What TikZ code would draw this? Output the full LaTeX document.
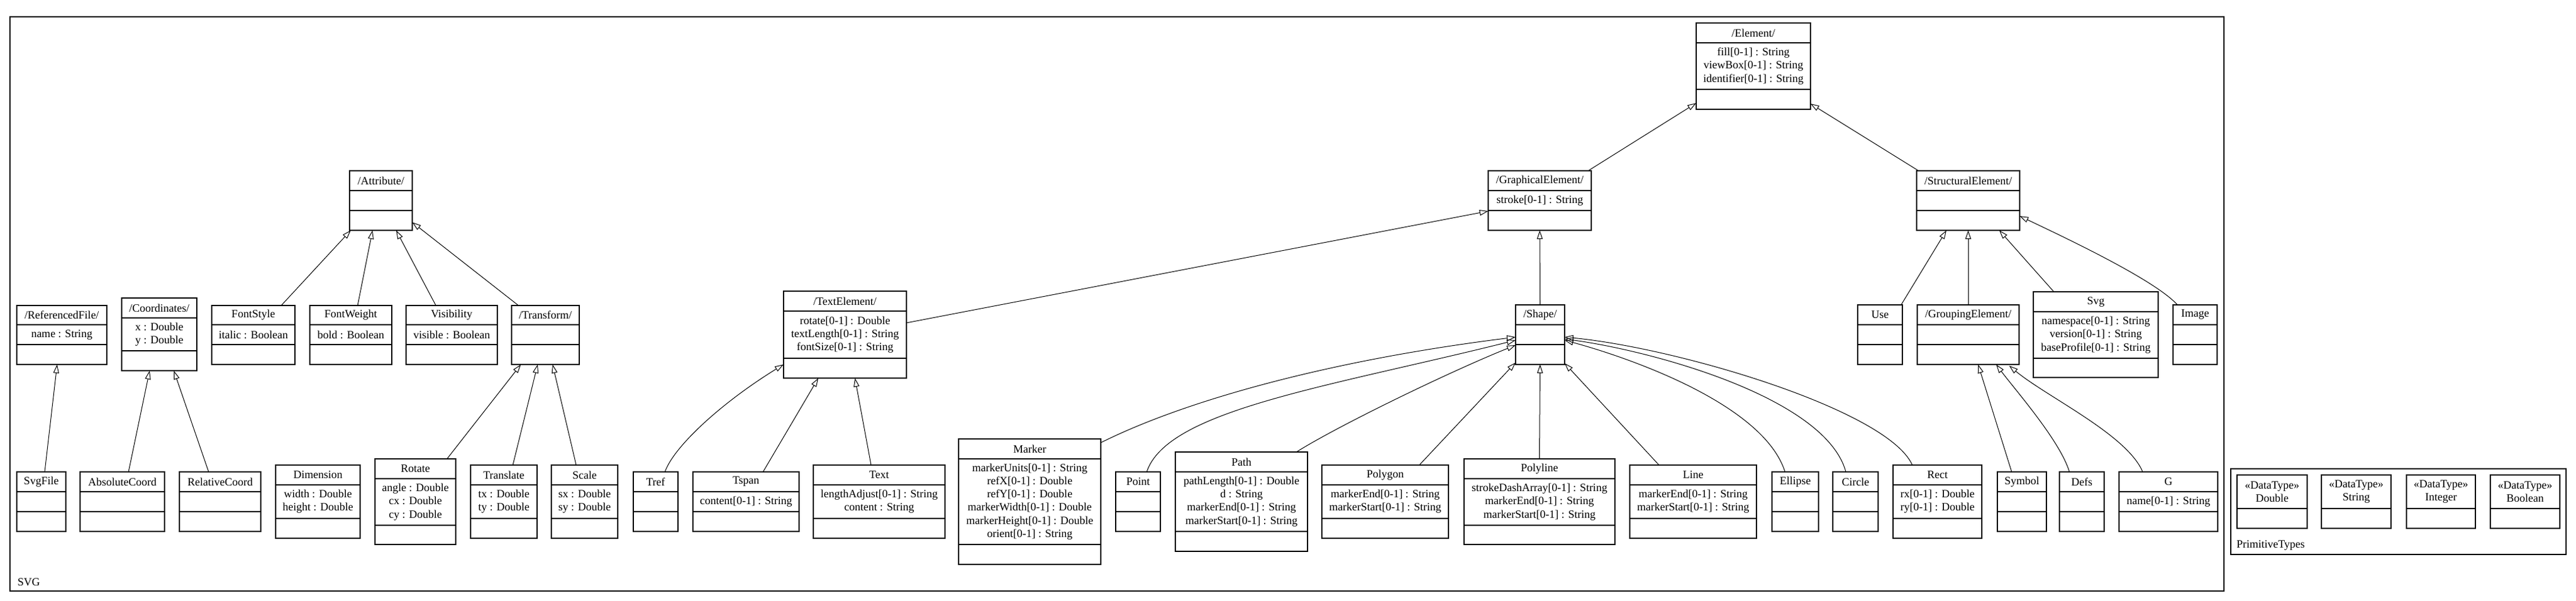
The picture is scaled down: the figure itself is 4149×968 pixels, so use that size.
\documentclass[tikz,border=0pt]{standalone}
\usepackage{fontspec}
\setmainfont{Liberation Serif}
\usetikzlibrary{arrows.meta,calc}
\newcommand\umlfont{\fontsize{9}{10.65}\selectfont}
\newcommand\umlclass[9]{%
  \node[cls, minimum width={(#4-#2)*0.5pt}, minimum height={(#5-#3)*0.5pt}] (#1) at ({(#2+#4)/2},{(#3+#5)/2}) {};
  \draw[clsline] (#2,#6) -- (#4,#6) (#2,#7) -- (#4,#7);
  \node[ttl] (#1-t) at ({(#2+#4)/2},{(#3+#6)/2}) {#8};
  \node[att] (#1-a) at ({(#2+#4)/2},{(#6+#7)/2}) {#9};
}
\newcommand\dtype[3]{%
  \node[cls, minimum width={(#3-#2)*0.5pt}, minimum height={86*0.5pt}] (#1) at ({(#2+#3)/2},808) {};
  \draw[clsline] (#2,819) -- (#3,819);
  \node[att] (#1-t) at ({(#2+#3)/2},792) {«DataType»\\#1};
}
\tikzset{
  cls/.style={draw, rectangle, line width=0.7pt, inner sep=0pt, outer sep=0pt},
  clsline/.style={line width=0.7pt},
  ttl/.style={font=\umlfont, inner sep=0pt, align=center},
  att/.style={font=\umlfont, inner sep=0pt, align=center},
  pkg/.style={draw, rectangle, line width=0.7pt, inner sep=0pt, outer sep=0pt},
  pkglabel/.style={font=\umlfont, inner sep=0pt, anchor=west},
  gen/.style={line width=0.5pt, -{Triangle[open, length=7pt, width=4.6pt]}}
}
\begin{document}
\begin{tikzpicture}[x=0.5pt, y=-0.5pt]
\useasboundingbox (0,0) rectangle (4149,968);
% packages
\node[pkg, minimum width={3566*0.5pt}, minimum height={925*0.5pt}] (svgpkg) at (1799,489.5) {};
\node[pkglabel] (svgpkg-l) at (28,938) {SVG};
\node[pkg, minimum width={540*0.5pt}, minimum height={138*0.5pt}] (primpkg) at (3863,824) {};
\node[pkglabel] (primpkg-l) at (3602,878) {PrimitiveTypes};
% primitive types
\dtype{Double}{3603}{3716}
\dtype{String}{3739}{3851}
\dtype{Integer}{3876}{3987}
\dtype{Boolean}{4011}{4123}
% left part
\umlclass{ReferencedFile}{27}{492}{172}{587}{523}{555}{/ReferencedFile/}{name : String}
\umlclass{Coordinates}{196}{480}{317}{597}{512}{565}{/Coordinates/}{x : Double\\y : Double}
\umlclass{FontStyle}{341}{492}{475}{587}{523}{555}{FontStyle}{italic : Boolean}
\umlclass{FontWeight}{499}{492}{631}{587}{523}{555}{FontWeight}{bold : Boolean}
\umlclass{Visibility}{654}{492}{801}{587}{523}{555}{Visibility}{visible : Boolean}
\umlclass{Transform}{824}{492}{933}{587}{523}{555}{/Transform/}{}
\umlclass{Attribute}{563}{275}{664}{371}{307}{339}{/Attribute/}{}
\umlclass{SvgFile}{27}{760}{106}{856}{792}{824}{SvgFile}{}
\umlclass{AbsoluteCoord}{129}{760}{265}{856}{792}{824}{AbsoluteCoord}{}
\umlclass{RelativeCoord}{289}{760}{420}{856}{792}{824}{RelativeCoord}{}
\umlclass{Dimension}{444}{749}{580}{867}{781}{835}{Dimension}{width : Double\\height : Double}
\umlclass{Rotate}{604}{739}{734}{877}{771}{846}{Rotate}{angle : Double\\cx : Double\\cy : Double}
\umlclass{Translate}{758}{749}{865}{867}{781}{835}{Translate}{tx : Double\\ty : Double}
\umlclass{Scale}{888}{749}{995}{867}{781}{835}{Scale}{sx : Double\\sy : Double}
% text part
\umlclass{Tref}{1020}{760}{1092}{856}{792}{824}{Tref}{}
\umlclass{Tspan}{1116}{760}{1287}{856}{792}{824}{Tspan}{content[0-1] : String}
\umlclass{Text}{1310}{749}{1522}{867}{781}{835}{Text}{lengthAdjust[0-1] : String\\content : String}
\umlclass{TextElement}{1262}{469}{1460}{609}{501}{577}{/TextElement/}{rotate[0-1] : Double\\textLength[0-1] : String\\fontSize[0-1] : String}
% shapes
\umlclass{Marker}{1544}{707}{1773}{909}{739}{877}{Marker}{markerUnits[0-1] : String\\refX[0-1] : Double\\refY[0-1] : Double\\markerWidth[0-1] : Double\\markerHeight[0-1] : Double\\orient[0-1] : String}
\umlclass{Point}{1797}{760}{1869}{856}{792}{824}{Point}{}
\umlclass{Path}{1893}{728}{2106}{888}{760}{856}{Path}{pathLength[0-1] : Double\\d : String\\markerEnd[0-1] : String\\markerStart[0-1] : String}
\umlclass{Polygon}{2129}{749}{2333}{867}{781}{835}{Polygon}{markerEnd[0-1] : String\\markerStart[0-1] : String}
\umlclass{Polyline}{2358}{739}{2601}{877}{771}{846}{Polyline}{strokeDashArray[0-1] : String\\markerEnd[0-1] : String\\markerStart[0-1] : String}
\umlclass{Line}{2625}{749}{2829}{867}{781}{835}{Line}{markerEnd[0-1] : String\\markerStart[0-1] : String}
\umlclass{Ellipse}{2854}{760}{2929}{856}{792}{824}{Ellipse}{}
\umlclass{Circle}{2952}{760}{3025}{856}{792}{824}{Circle}{}
\umlclass{Rect}{3049}{749}{3192}{867}{781}{835}{Rect}{rx[0-1] : Double\\ry[0-1] : Double}
\umlclass{Shape}{2441}{491}{2520}{587}{523}{555}{/Shape/}{}
\umlclass{GraphicalElement}{2397}{275}{2563}{371}{307}{339}{/GraphicalElement/}{stroke[0-1] : String}
\umlclass{Element}{2732}{37}{2916}{176}{69}{144}{/Element/}{fill[0-1] : String\\viewBox[0-1] : String\\identifier[0-1] : String}
% structural
\umlclass{StructuralElement}{3087}{275}{3253}{371}{307}{339}{/StructuralElement/}{}
\umlclass{Use}{2992}{491}{3064}{587}{523}{555}{Use}{}
\umlclass{GroupingElement}{3088}{491}{3252}{587}{523}{555}{/GroupingElement/}{}
\umlclass{Svg}{3275}{470}{3476}{608}{502}{577}{Svg}{namespace[0-1] : String\\version[0-1] : String\\baseProfile[0-1] : String}
\umlclass{Image}{3500}{491}{3571}{587}{523}{555}{Image}{}
\umlclass{Symbol}{3217}{760}{3296}{856}{792}{824}{Symbol}{}
\umlclass{Defs}{3317}{760}{3389}{856}{792}{824}{Defs}{}
\umlclass{G}{3413}{760}{3572}{856}{792}{824}{G}{name[0-1] : String}
% generalisations
\draw[gen] ($(SvgFile.north west)+(45,0)$) -- ($(ReferencedFile.south west)+(65,0)$);
\draw[gen] ($(AbsoluteCoord.north west)+(78,0)$) -- ($(Coordinates.south west)+(45,0)$);
\draw[gen] ($(RelativeCoord.north west)+(47,0)$) -- ($(Coordinates.south west)+(84,0)$);
\draw[gen] ($(FontStyle.north west)+(112,0)$) -- ($(Attribute.south west)+(2,0)$);
\draw[gen] ($(FontWeight.north west)+(77,0)$) -- ($(Attribute.south west)+(37,0)$);
\draw[gen] ($(Visibility.north west)+(48,0)$) -- ($(Attribute.south west)+(75,0)$);
\draw[gen] ($(Transform.north west)+(11,0)$) -- ($(Attribute.north east)+(0,83)$);
\draw[gen] ($(Rotate.north west)+(116,0)$) -- ($(Transform.south west)+(15,0)$);
\draw[gen] ($(Translate.north west)+(68,0)$) -- ($(Transform.south west)+(42,0)$);
\draw[gen] ($(Scale.north west)+(40,0)$) -- ($(Transform.south west)+(66,0)$);
\draw[gen] ($(Tref.north west)+(51,0)$) .. controls +(14,-40) and +(-102,63) .. ($(TextElement.north west)+(0,118)$);
\draw[gen] ($(Tspan.north west)+(113,0)$) -- ($(TextElement.south west)+(56,0)$);
\draw[gen] ($(Text.north west)+(93,0)$) -- ($(TextElement.south west)+(115,0)$);
\draw[gen] ($(TextElement.north east)+(0,51)$) -- ($(GraphicalElement.north west)+(0,65)$);
\draw[gen] ($(GraphicalElement.north east)+(-5,0)$) -- ($(Element.north west)+(0,129)$);
\draw[gen] ($(StructuralElement.north west)+(3,0)$) -- ($(Element.north east)+(0,130)$);
\draw[gen] (Shape.north) -- (GraphicalElement.south);
\draw[gen] ($(Marker.north east)+(0,6)$) .. controls +(140,-70) and +(-291,36) .. ($(Shape.north west)+(0,52)$);
\draw[gen] ($(Point.north west)+(50,0)$) .. controls +(33,-100) and +(-300,75) .. ($(Shape.north west)+(0,57)$);
\draw[gen] ($(Path.north west)+(195,0)$) .. controls +(72,-45) and +(-100,40) .. ($(Shape.north west)+(0,65)$);
\draw[gen] ($(Polygon.north west)+(157,0)$) -- ($(Shape.south west)+(0,-3)$);
\draw[gen] (Polyline.north) -- (Shape.south);
\draw[gen] ($(Line.north west)+(47,0)$) -- ($(Shape.south east)+(0,-2)$);
\draw[gen] ($(Ellipse.north west)+(21,0)$) .. controls +(-35,-110) and +(100,27) .. ($(Shape.north east)+(0,57)$);
\draw[gen] ($(Circle.north west)+(21,0)$) .. controls +(-33,-120) and +(140,19) .. ($(Shape.north east)+(0,55)$);
\draw[gen] ($(Rect.north west)+(31,0)$) .. controls +(-40,-89) and +(180,17) .. ($(Shape.north east)+(0,52)$);
\draw[gen] ($(Use.north west)+(70,0)$) -- ($(StructuralElement.south west)+(48,0)$);
\draw[gen] (GroupingElement.north) -- (StructuralElement.south);
\draw[gen] ($(Svg.north west)+(33,0)$) -- ($(StructuralElement.south west)+(133,0)$);
\draw[gen] ($(Image.north west)+(7,0)$) .. controls +(-37,-41) and +(67,32) .. ($(StructuralElement.north east)+(0,73)$);
\draw[gen] ($(Symbol.north west)+(23,0)$) -- ($(GroupingElement.south west)+(98,0)$);
\draw[gen] ($(Defs.north west)+(16,0)$) .. controls +(-15,-50) and +(30,40) .. ($(GroupingElement.south west)+(127,0)$);
\draw[gen] ($(G.north west)+(38,0)$) .. controls +(-25,-60) and +(60,50) .. ($(GroupingElement.south west)+(148,2)$);
\end{tikzpicture}
\end{document}
